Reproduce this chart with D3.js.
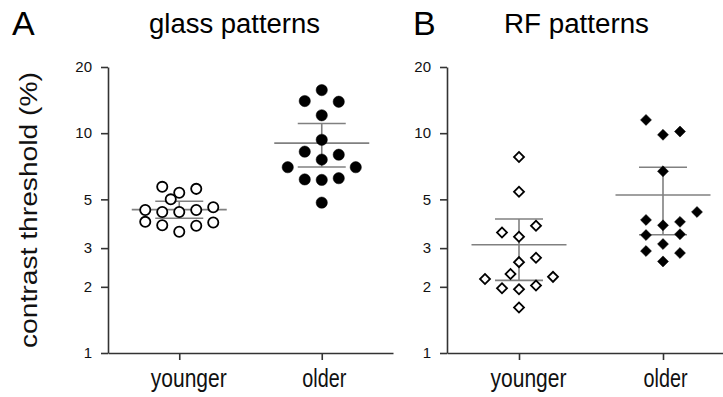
<!DOCTYPE html>
<html>
<head>
<meta charset="utf-8">
<script src="https://cdn.jsdelivr.net/npm/d3@7"></script>
<style>
  html, body { margin: 0; padding: 0; background: #fff; }
  svg { display: block; font-family: "Liberation Sans", Arial, Helvetica, sans-serif; }
</style>
</head>
<body>
<svg class="chart"></svg>
<script>
// categories and ticks
const groups = ["younger", "older"];
const yTicks = [1, 2, 3, 5, 10, 20];

// A: glass patterns (value, column within the scatter)
const glassYoungVals = [5.70, 5.36, 5.58, 5.0, 4.47, 4.38, 4.38, 4.47, 4.60, 3.95, 3.81, 3.56, 3.79, 3.92];
const glassYoungCols = [-1, 0, 1, -0.5, -2, -1, 0, 1, 2, -2, -1, 0, 1, 2];
const glassOldVals = [15.7, 14.0, 13.9, 12.06, 9.33, 8.24, 7.98, 7.58, 7.0, 7.0, 6.16, 6.13, 6.24, 4.83];
const glassOldCols = [0, -1, 1, 0, 0, -1, 1, 0, -2, 2, -1, 0, 1, 0];
const glassMean = [4.49, 9.01];
const glassHi = [4.90, 11.06];
const glassLo = [4.10, 7.02];

// B: RF patterns
const rfYoungVals = [7.79, 5.41, 3.79, 3.53, 3.38, 2.71, 2.59, 2.29, 2.17, 2.22, 1.97, 1.95, 2.03, 1.61];
const rfYoungCols = [0, 0, 1, -1, 0, 1, 0, -0.5, -2, 2, -1, 0, 1, 0];
const rfOldVals = [11.49, 9.83, 10.17, 6.71, 4.38, 4.03, 3.81, 3.95, 3.44, 3.47, 3.13, 2.91, 2.85, 2.61];
const rfOldCols = [-1, 0, 1, 0, 2, -1, 0, 1, -1, 1, 0, -1, 1, 0];
const rfMean = [3.11, 5.23];
const rfHi = [4.07, 7.0];
const rfLo = [2.14, 3.45];

const W = 723, H = 397;
const svg = d3.select(".chart").attr("width", W).attr("height", H);

const y = d3.scaleLog().domain([1, 20]).range([353, 67]);
const col = d3.scaleLinear().domain([-1, 1]).range([-17, 17]);

const zip = (vals, cols) => vals.map((v, i) => ({ v, c: cols[i] }));

const drawPanel = (opt) => {
  const x = d3.scalePoint().domain(groups).range(opt.xr).padding(0.5);
  const g = svg.append("g");

  // y axis
  const ya = g.append("g")
    .attr("transform", `translate(${opt.xr[0]},0)`)
    .call(d3.axisLeft(y).tickValues(yTicks).tickFormat(d3.format("d"))
      .tickSize(7).tickSizeOuter(0).tickPadding(9));
  ya.selectAll("path, line").attr("stroke", "#333").attr("stroke-width", 1.6);
  ya.selectAll("text").attr("font-size", 15).attr("fill", "#111")
    .style("font-family", "'Liberation Sans', Arial, sans-serif");

  // x axis
  const xa = g.append("g")
    .attr("transform", "translate(0,353)")
    .call(d3.axisBottom(x).tickSize(7).tickSizeOuter(0).tickPadding(9));
  xa.selectAll("path, line").attr("stroke", "#333").attr("stroke-width", 1.6);
  xa.selectAll("text")
    .attr("font-size", 25).attr("fill", "#111")
    .style("font-family", "'Liberation Sans', Arial, sans-serif")
    .attr("dx", (d) => (d === "younger" ? 9 : 2))
    .attr("lengthAdjust", "spacingAndGlyphs")
    .attr("textLength", (d) => (d === "younger" ? 76 : 44));

  // mean and error bars
  const gray = "#808080";
  groups.forEach((grp, i) => {
    const cx = x(grp);
    g.append("line")
      .attr("x1", cx).attr("x2", cx)
      .attr("y1", y(opt.hi[i])).attr("y2", y(opt.lo[i]))
      .attr("stroke", gray).attr("stroke-width", 1.6);
    [opt.hi[i], opt.lo[i]].forEach((v) => {
      g.append("line")
        .attr("x1", cx - 24).attr("x2", cx + 24)
        .attr("y1", y(v)).attr("y2", y(v))
        .attr("stroke", gray).attr("stroke-width", 1.6);
    });
    g.append("line")
      .attr("x1", cx - 47.5).attr("x2", cx + 47.5)
      .attr("y1", y(opt.mean[i])).attr("y2", y(opt.mean[i]))
      .attr("stroke", gray).attr("stroke-width", 1.6);
  });

  // points
  const sets = [
    { grp: "younger", pts: opt.young, open: true },
    { grp: "older", pts: opt.old, open: false },
  ];
  sets.forEach((s) => {
    const sel = g.append("g").selectAll("path")
      .data(s.pts)
      .enter()
      .append("path")
      .attr("fill", s.open ? "#fff" : "#000")
      .attr("stroke", "#000")
      .attr("stroke-width", s.open ? 1.8 : 0.5);
    if (opt.shape === "circle") {
      sel.attr("d", d3.symbol().type(d3.symbolCircle).size(s.open ? 82 : 100)())
        .attr("transform", (d) => `translate(${x(s.grp) + col(d.c)},${y(d.v)})`);
    } else {
      sel.attr("d", d3.symbol().type(d3.symbolSquare).size(s.open ? 50 : 60)())
        .attr("transform", (d) => `translate(${x(s.grp) + col(d.c)},${y(d.v)}) rotate(45)`);
    }
  });

  // titles
  svg.append("text")
    .attr("x", opt.letterX).attr("y", 35)
    .attr("font-size", 34).attr("fill", "#000")
    .text(opt.letter);
  svg.append("text")
    .attr("x", opt.titleX).attr("y", 33)
    .attr("font-size", 27).attr("fill", "#000")
    .attr("lengthAdjust", "spacingAndGlyphs")
    .attr("textLength", opt.titleLen)
    .text(opt.title);
};

drawPanel({
  xr: [108, 393],
  young: zip(glassYoungVals, glassYoungCols),
  old: zip(glassOldVals, glassOldCols),
  mean: glassMean, hi: glassHi, lo: glassLo,
  shape: "circle",
  letter: "A", letterX: 12,
  title: "glass patterns", titleX: 149, titleLen: 171,
});

drawPanel({
  xr: [447, 735],
  young: zip(rfYoungVals, rfYoungCols),
  old: zip(rfOldVals, rfOldCols),
  mean: rfMean, hi: rfHi, lo: rfLo,
  shape: "diamond",
  letter: "B", letterX: 413,
  title: "RF patterns", titleX: 504, titleLen: 145,
});

// y axis title
svg.append("text")
  .attr("transform", "translate(37,210) rotate(-90)")
  .attr("text-anchor", "middle")
  .attr("font-size", 23.5).attr("fill", "#111")
  .attr("lengthAdjust", "spacingAndGlyphs")
  .attr("textLength", 276)
  .text("contrast threshold (%)");
</script>
</body>
</html>
